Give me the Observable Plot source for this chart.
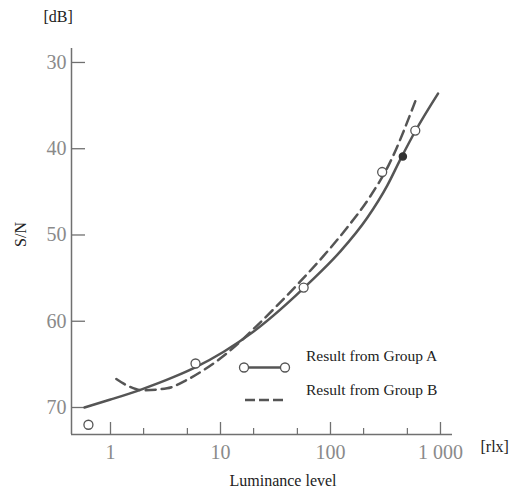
<!DOCTYPE html>
<html>
<head>
<meta charset="utf-8">
<script src="https://cdn.jsdelivr.net/npm/d3@7"></script>
<script src="https://cdn.jsdelivr.net/npm/@observablehq/plot@0.6"></script>
<style>
  body { margin: 0; background: white; }
  #wrap { position: relative; width: 529px; height: 490px; }
  #legend { position: absolute; left: 0; top: 0; }
</style>
</head>
<body>
<div id="wrap"></div>
<script>
// Group A (solid) fitted curve
const groupAX = [0.58, 1, 1.87, 3.77, 5.9, 10.7, 20, 65.8, 123, 216, 327, 433, 600, 950];
const groupAY = [70.0, 69.08, 67.95, 66.46, 65.35, 63.54, 61.19, 55.41, 51.9, 48.0, 44.3, 41.2, 37.8, 33.6];
// Group A measured points (open circles)
const pointsAX = [0.63, 5.93, 57, 295, 590];
const pointsAY = [72.0, 64.9, 56.1, 42.7, 37.9];
// filled marker
const filledX = [455];
const filledY = [40.9];
// Group B (dashed) curve
const groupBX = [1.13, 1.5, 1.94, 3.27, 5, 7.05, 10, 15.2, 20.8, 53.4, 86.9, 142, 231, 339, 590];
const groupBY = [66.7, 67.6, 68.0, 67.77, 66.77, 65.65, 64.3, 62.34, 60.68, 55.36, 52.39, 49.13, 45.48, 41.87, 34.5];

const xMajor = [1, 10, 100, 1000];
const xMajorLabels = ["1", "10", "100", "1 000"];
const xMinor = [2, 5, 20, 50, 200, 500];
const yTicks = [30, 40, 50, 60, 70];
const xDomain = [0.442, 1286];
const yDomain = [28.38, 73.13];

const legendLabels = ["Result from Group A", "Result from Group B"];

const toRows = (xs, ys) => xs.map((x, i) => ({x, y: ys[i]}));
const lineA = toRows(groupAX, groupAY);
const ptsA = toRows(pointsAX, pointsAY);
const filled = toRows(filledX, filledY);
const lineB = toRows(groupBX, groupBY);

const axisColor = "#707070";
const curveColor = "#555";

const chart = Plot.plot({
  width: 529,
  height: 490,
  marginLeft: 71,
  marginRight: 77,
  marginTop: 48,
  marginBottom: 56,
  style: {fontFamily: "'Liberation Serif', 'DejaVu Serif', serif", background: "white"},
  x: {type: "log", domain: xDomain},
  y: {domain: yDomain, reverse: true},
  marks: [
    Plot.ruleX([xDomain[0]], {stroke: axisColor, strokeWidth: 1.5}),
    Plot.ruleY([yDomain[1]], {stroke: axisColor, strokeWidth: 1.5}),
    Plot.tickY(yTicks, {y: d => d, insetRight: 367, stroke: axisColor, strokeWidth: 1.3}),
    Plot.tickX(xMajor, {x: d => d, insetTop: 374, stroke: axisColor, strokeWidth: 1.3}),
    Plot.tickX(xMinor, {x: d => d, insetTop: 380, stroke: axisColor, strokeWidth: 1.2}),
    Plot.axisY(yTicks, {tickSize: 0, tickPadding: 5, fontSize: 20, color: "#8a8a8a", label: null}),
    Plot.axisX(xMajor, {tickSize: 0, tickPadding: 10, fontSize: 20, color: "#8a8a8a", label: null,
      tickFormat: d => xMajorLabels[xMajor.indexOf(d)]}),
    Plot.line(lineA, {x: "x", y: "y", curve: "monotone-x", stroke: curveColor, strokeWidth: 2.5}),
    Plot.line(lineB, {x: "x", y: "y", curve: "monotone-x", stroke: curveColor, strokeWidth: 2.5, strokeDasharray: "10,6"}),
    Plot.dot(ptsA, {x: "x", y: "y", r: 4.5, fill: "white", stroke: curveColor, strokeWidth: 1.3}),
    Plot.dot(filled, {x: "x", y: "y", r: 3.5, fill: "#333", stroke: "#333"}),
    Plot.text(["[dB]"], {text: d => d, frameAnchor: "top-left", dx: -28, dy: -27, textAnchor: "start", lineAnchor: "bottom", fontSize: 16, fill: "#222"}),
    Plot.text(["S/N"], {text: d => d, frameAnchor: "left", dx: -51, dy: -7, rotate: -90, textAnchor: "middle", lineAnchor: "middle", fontSize: 16, fill: "#222"}),
    Plot.text(["Luminance level"], {text: d => d, frameAnchor: "bottom-left", dx: 158, dy: 51, textAnchor: "start", lineAnchor: "bottom", fontSize: 16, fill: "#222"}),
    Plot.text(["[rlx]"], {text: d => d, frameAnchor: "bottom-right", dx: 28, dy: 12, textAnchor: "start", lineAnchor: "middle", fontSize: 16, fill: "#222"})
  ]
});

const wrap = document.getElementById("wrap");
wrap.appendChild(chart);

// Legend overlay
const leg = d3.select(wrap).append("svg").attr("id", "legend").attr("width", 529).attr("height", 490)
  .style("font-family", "'Liberation Serif', 'DejaVu Serif', serif");
leg.append("text").attr("x", 306).attr("y", 361).attr("font-size", 15.5).attr("fill", "#222").text(legendLabels[0]);
leg.append("text").attr("x", 306).attr("y", 395).attr("font-size", 15.5).attr("fill", "#222").text(legendLabels[1]);
leg.append("line").attr("x1", 244).attr("x2", 285).attr("y1", 367.5).attr("y2", 367.5)
  .attr("stroke", curveColor).attr("stroke-width", 2.5);
[244, 285].forEach(cx => leg.append("circle").attr("cx", cx).attr("cy", 367.5).attr("r", 4.5)
  .attr("fill", "white").attr("stroke", curveColor).attr("stroke-width", 1.3));
leg.append("line").attr("x1", 245).attr("x2", 283).attr("y1", 400).attr("y2", 400)
  .attr("stroke", curveColor).attr("stroke-width", 2.5).attr("stroke-dasharray", "10,4");
</script>
</body>
</html>
